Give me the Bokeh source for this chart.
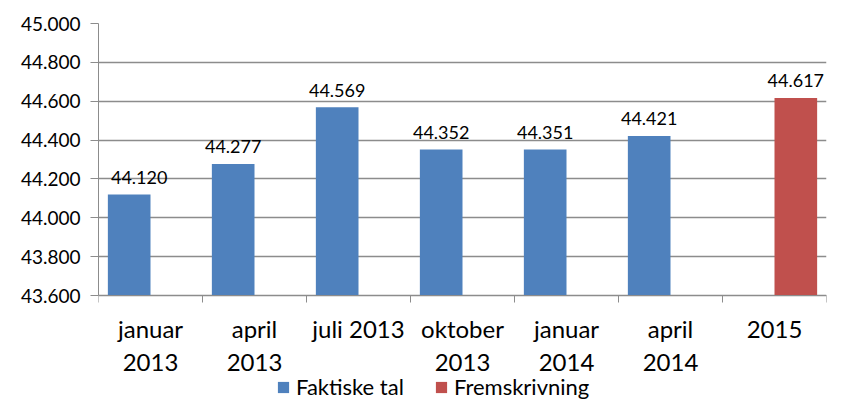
from bokeh.plotting import figure
from bokeh.models import Range1d, FixedTicker, ColumnDataSource, Legend, LegendItem
from bokeh.core.properties import value
from bokeh.embed import file_html
from bokeh.resources import INLINE

# ---- data ----
categories = ["januar\n2013", "april\n2013", "juli 2013", "oktober\n2013",
              "januar\n2014", "april\n2014", "2015"]
faktiske_tal = [44120, 44277, 44569, 44352, 44351, 44421, None]
fremskrivning = [None, None, None, None, None, None, 44617]
series_names = ["Faktiske tal", "Fremskrivning"]
y_ticks = [43600, 43800, 44000, 44200, 44400, 44600, 44800, 45000]
y_tick_labels = ["43.600", "43.800", "44.000", "44.200", "44.400", "44.600", "44.800", "45.000"]

# ---- style / layout ----
colors = ["#4F81BD", "#C0504D"]
FONT = "Lato"
GRAY = "#8C8C8C"
bar_w = 0.41
label_dx = [10, 0, 0, 0, 0, 0, 0]
W, H = 827, 401
TOP, LEFT, RIGHT = 23, 98, 1
PLOT_H = 272                     # pixel height of the value area (43.600 .. 45.000)
frame_h = H - TOP
y_lo, y_hi = y_ticks[0], y_ticks[-1]
y_start = y_lo - (y_hi - y_lo) * (frame_h - PLOT_H) / PLOT_H


def fmt(v):
    return f"{v:,}".replace(",", ".")


n = len(categories)
p = figure(width=W, height=H, output_backend="svg", toolbar_location=None,
           x_range=Range1d(0, n), y_range=Range1d(y_start, y_hi),
           min_border_left=LEFT, min_border_right=RIGHT, min_border_top=TOP,
           min_border_bottom=0)
p.outline_line_color = None
p.background_fill_color = "white"
p.border_fill_color = "white"

renderers = []
for s, (vals, col) in enumerate(zip([faktiske_tal, fremskrivning], colors)):
    off = (s - 0.5) * bar_w
    xs, tops, labs, dxs = [], [], [], []
    for i, v in enumerate(vals):
        if v is None:
            continue
        xs.append(i + 0.5 + off)
        tops.append(v)
        labs.append(fmt(v))
        dxs.append(label_dx[i])
    src = ColumnDataSource(dict(x=xs, top=tops, label=labs, dx=dxs))
    r = p.vbar(x="x", top="top", bottom=y_lo, width=bar_w, source=src,
               fill_color=col, line_color=None)
    p.text(x="x", y="top", text="label", source=src, x_offset="dx", y_offset=-17,
           text_align="center", text_baseline="alphabetic",
           text_font=value(FONT), text_font_size="18px", text_color="black")
    renderers.append(r)

# y axis
p.yaxis.ticker = FixedTicker(ticks=y_ticks, minor_ticks=[])
p.yaxis.bounds = (y_lo, y_hi)
p.yaxis.major_label_overrides = {float(t): l for t, l in zip(y_ticks, y_tick_labels)}
p.yaxis.axis_line_color = GRAY
p.yaxis.major_tick_line_color = GRAY
p.yaxis.major_tick_out = 8
p.yaxis.major_tick_in = 0
p.yaxis.major_label_standoff = 10
p.yaxis.major_label_text_font = FONT
p.yaxis.major_label_text_font_size = "19px"
p.yaxis.major_label_text_color = "black"

# x axis (drawn at the 43.600 level)
p.xaxis.fixed_location = y_lo
p.xaxis.ticker = FixedTicker(ticks=[i + 0.5 for i in range(n)],
                             minor_ticks=[float(i) for i in range(n + 1)])
p.xaxis.major_label_overrides = {i + 0.5: c for i, c in enumerate(categories)}
p.xaxis.axis_line_color = GRAY
p.xaxis.major_tick_line_color = None
p.xaxis.major_tick_out = 0
p.xaxis.major_tick_in = 0
p.xaxis.minor_tick_line_color = GRAY
p.xaxis.minor_tick_out = 7
p.xaxis.minor_tick_in = 0
p.xaxis.major_label_standoff = 11
p.xaxis.major_label_text_font = FONT
p.xaxis.major_label_text_font_size = "24px"
p.xaxis.major_label_text_color = "black"
p.xaxis.major_label_text_line_height = 1.15

p.xgrid.grid_line_color = None
p.ygrid.ticker = FixedTicker(ticks=y_ticks)
p.ygrid.grid_line_color = GRAY
p.ygrid.grid_line_width = 1.3

legend = Legend(items=[LegendItem(label=nm, renderers=[r]) for nm, r in zip(series_names, renderers)],
                orientation="horizontal", location=(178, 1),
                glyph_width=14, glyph_height=14, label_standoff=6, spacing=30,
                padding=0, margin=0, border_line_color=None, background_fill_alpha=0,
                label_text_font=FONT, label_text_font_size="22px", label_text_color="black")
p.add_layout(legend, "center")

open("out.html", "w").write(file_html(p, INLINE))
